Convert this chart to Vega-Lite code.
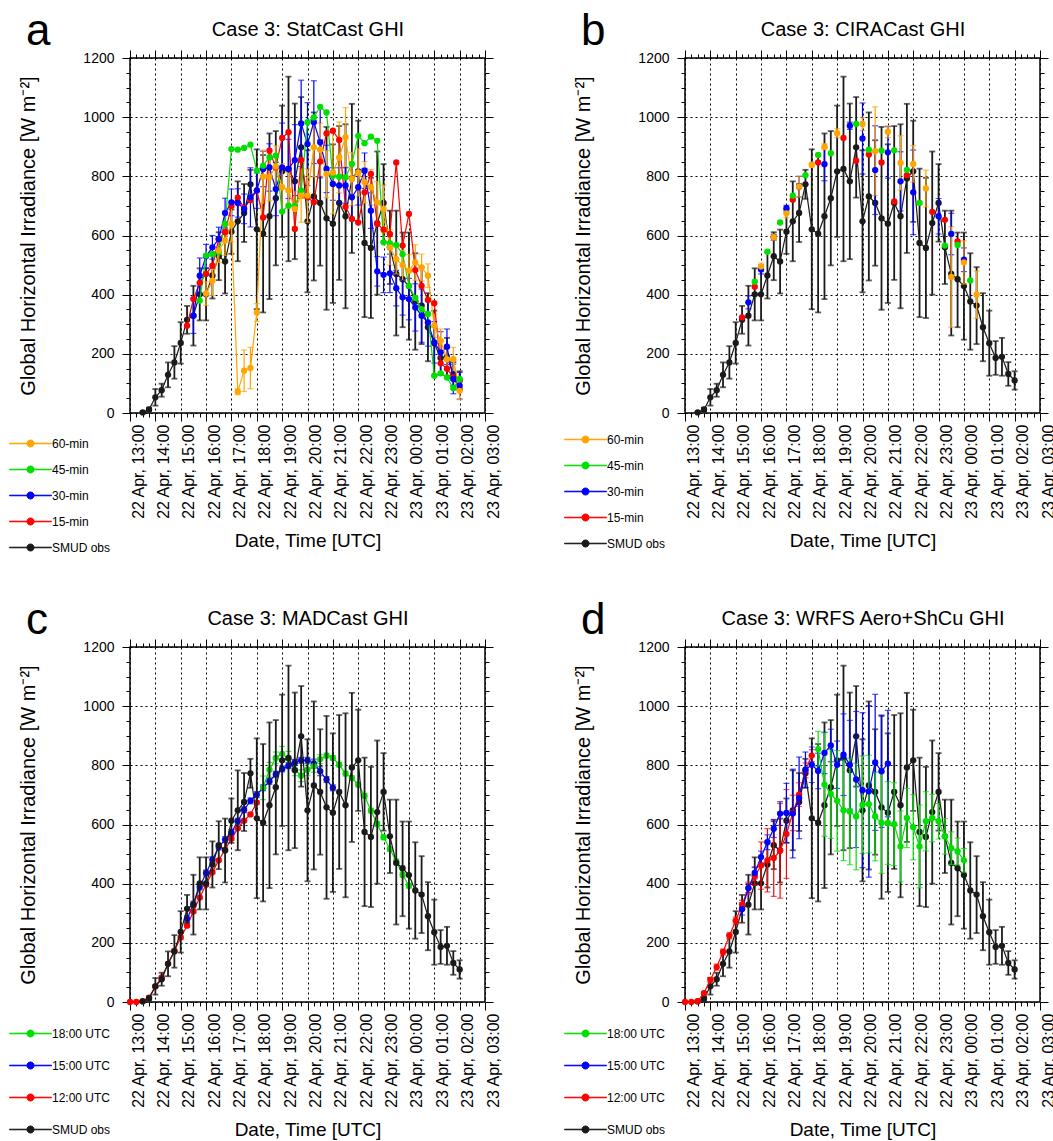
{
"$schema": "https://vega.github.io/schema/vega-lite/v6.json",
"background": "white",
"padding": {"left": 8, "top": 8, "right": 0, "bottom": 5},
"config": {
  "font": "Liberation Sans",
  "view": {"stroke": "black", "strokeWidth": 1.5},
  "axis": {"labelFontSize": 14, "labelColor": "black", "titleFontSize": 20, "titleFontWeight": "normal", "titleColor": "black", "tickColor": "black", "tickWidth": 1, "domain": false, "gridColor": "black", "gridDash": [2, 3], "gridWidth": 1, "gridOpacity": 1, "labelFlush": false, "labelOverlap": false, "labelBound": false},
  "legend": {"labelFontSize": 12, "labelColor": "black"}
},
"datasets": {
  "obs": [
    {"t":13.5,"v":2,"lo":2,"hi":2,"s":"SMUD obs"},{"t":13.75,"v":12,"lo":6,"hi":18,"s":"SMUD obs"},{"t":14,"v":53,"lo":25,"hi":81,"s":"SMUD obs"},{"t":14.25,"v":77,"lo":55,"hi":99,"s":"SMUD obs"},{"t":14.5,"v":129,"lo":87,"hi":171,"s":"SMUD obs"},{"t":14.75,"v":171,"lo":116,"hi":226,"s":"SMUD obs"},{"t":15,"v":237,"lo":167,"hi":307,"s":"SMUD obs"},{"t":15.25,"v":315,"lo":268,"hi":362,"s":"SMUD obs"},{"t":15.5,"v":329,"lo":228,"hi":430,"s":"SMUD obs"},{"t":15.75,"v":401,"lo":313,"hi":489,"s":"SMUD obs"},{"t":16,"v":401,"lo":313,"hi":489,"s":"SMUD obs"},{"t":16.25,"v":465,"lo":387,"hi":543,"s":"SMUD obs"},{"t":16.5,"v":530,"lo":449,"hi":611,"s":"SMUD obs"},{"t":16.75,"v":512,"lo":404,"hi":620,"s":"SMUD obs"},{"t":17,"v":613,"lo":538,"hi":688,"s":"SMUD obs"},{"t":17.25,"v":648,"lo":513,"hi":783,"s":"SMUD obs"},{"t":17.5,"v":676,"lo":578,"hi":774,"s":"SMUD obs"},{"t":17.75,"v":773,"lo":724,"hi":822,"s":"SMUD obs"},{"t":18,"v":621,"lo":351,"hi":891,"s":"SMUD obs"},{"t":18.25,"v":606,"lo":340,"hi":872,"s":"SMUD obs"},{"t":18.5,"v":665,"lo":385,"hi":945,"s":"SMUD obs"},{"t":18.75,"v":726,"lo":499,"hi":953,"s":"SMUD obs"},{"t":19,"v":817,"lo":595,"hi":1039,"s":"SMUD obs"},{"t":19.25,"v":825,"lo":513,"hi":1137,"s":"SMUD obs"},{"t":19.5,"v":783,"lo":520,"hi":1046,"s":"SMUD obs"},{"t":19.75,"v":898,"lo":728,"hi":1068,"s":"SMUD obs"},{"t":20,"v":648,"lo":408,"hi":888,"s":"SMUD obs"},{"t":20.25,"v":732,"lo":448,"hi":1016,"s":"SMUD obs"},{"t":20.5,"v":710,"lo":498,"hi":922,"s":"SMUD obs"},{"t":20.75,"v":658,"lo":349,"hi":967,"s":"SMUD obs"},{"t":21,"v":640,"lo":372,"hi":908,"s":"SMUD obs"},{"t":21.25,"v":710,"lo":450,"hi":970,"s":"SMUD obs"},{"t":21.5,"v":665,"lo":354,"hi":976,"s":"SMUD obs"},{"t":21.75,"v":793,"lo":541,"hi":1045,"s":"SMUD obs"},{"t":22,"v":817,"lo":646,"hi":988,"s":"SMUD obs"},{"t":22.25,"v":575,"lo":324,"hi":826,"s":"SMUD obs"},{"t":22.5,"v":558,"lo":321,"hi":795,"s":"SMUD obs"},{"t":22.75,"v":642,"lo":400,"hi":884,"s":"SMUD obs"},{"t":23,"v":710,"lo":579,"hi":841,"s":"SMUD obs"},{"t":23.25,"v":560,"lo":436,"hi":684,"s":"SMUD obs"},{"t":23.5,"v":470,"lo":262,"hi":684,"s":"SMUD obs"},{"t":23.75,"v":452,"lo":290,"hi":610,"s":"SMUD obs"},{"t":24,"v":429,"lo":248,"hi":610,"s":"SMUD obs"},{"t":24.25,"v":377,"lo":214,"hi":540,"s":"SMUD obs"},{"t":24.5,"v":363,"lo":233,"hi":493,"s":"SMUD obs"},{"t":24.75,"v":290,"lo":175,"hi":405,"s":"SMUD obs"},{"t":25,"v":236,"lo":126,"hi":346,"s":"SMUD obs"},{"t":25.25,"v":186,"lo":129,"hi":243,"s":"SMUD obs"},{"t":25.5,"v":190,"lo":126,"hi":254,"s":"SMUD obs"},{"t":25.75,"v":132,"lo":92,"hi":172,"s":"SMUD obs"},{"t":26,"v":110,"lo":79,"hi":141,"s":"SMUD obs"}
  ],
  "fa": [
    {"t":15.25,"v":295,"s":"15-min"},{"t":15.5,"v":385,"s":"15-min"},{"t":15.75,"v":440,"s":"15-min"},{"t":16,"v":470,"s":"15-min"},{"t":16.25,"v":498,"s":"15-min"},{"t":16.5,"v":588,"s":"15-min"},{"t":16.75,"v":611,"s":"15-min"},{"t":17,"v":700,"s":"15-min"},{"t":17.25,"v":728,"s":"15-min"},{"t":17.5,"v":693,"s":"15-min"},{"t":17.75,"v":720,"s":"15-min"},{"t":18,"v":752,"s":"15-min"},{"t":18.25,"v":661,"s":"15-min"},{"t":18.5,"v":887,"s":"15-min"},{"t":18.75,"v":830,"s":"15-min"},{"t":19,"v":930,"s":"15-min"},{"t":19.25,"v":949,"s":"15-min"},{"t":19.5,"v":622,"s":"15-min"},{"t":19.75,"v":855,"s":"15-min"},{"t":20,"v":729,"s":"15-min"},{"t":20.25,"v":712,"s":"15-min"},{"t":20.5,"v":850,"s":"15-min"},{"t":20.75,"v":945,"s":"15-min"},{"t":21,"v":954,"s":"15-min"},{"t":21.25,"v":923,"s":"15-min"},{"t":21.5,"v":697,"s":"15-min"},{"t":21.75,"v":656,"s":"15-min"},{"t":22,"v":644,"s":"15-min"},{"t":22.25,"v":746,"s":"15-min"},{"t":22.5,"v":808,"s":"15-min"},{"t":22.75,"v":639,"s":"15-min"},{"t":23,"v":620,"s":"15-min"},{"t":23.25,"v":605,"s":"15-min"},{"t":23.5,"v":847,"s":"15-min"},{"t":23.75,"v":566,"s":"15-min"},{"t":24,"v":673,"s":"15-min"},{"t":24.25,"v":483,"s":"15-min"},{"t":24.5,"v":430,"s":"15-min"},{"t":24.75,"v":382,"s":"15-min"},{"t":25,"v":371,"s":"15-min"},{"t":25.25,"v":168,"s":"15-min"},{"t":25.5,"v":150,"s":"15-min"},{"t":25.75,"v":120,"s":"15-min"},{"t":26,"v":81,"s":"15-min"},
    {"t":15.5,"v":329,"lo":269,"hi":389,"s":"30-min"},{"t":15.75,"v":464,"lo":404,"hi":524,"s":"30-min"},{"t":16,"v":530,"lo":490,"hi":570,"s":"30-min"},{"t":16.25,"v":560,"lo":520,"hi":600,"s":"30-min"},{"t":16.5,"v":588,"lo":548,"hi":628,"s":"30-min"},{"t":16.75,"v":676,"lo":626,"hi":726,"s":"30-min"},{"t":17,"v":712,"lo":667,"hi":757,"s":"30-min"},{"t":17.25,"v":710,"lo":662,"hi":758,"s":"30-min"},{"t":17.5,"v":690,"lo":640,"hi":740,"s":"30-min"},{"t":17.75,"v":729,"lo":629,"hi":829,"s":"30-min"},{"t":18,"v":752,"lo":692,"hi":812,"s":"30-min"},{"t":18.25,"v":825,"lo":765,"hi":885,"s":"30-min"},{"t":18.5,"v":830,"lo":750,"hi":910,"s":"30-min"},{"t":18.75,"v":757,"lo":667,"hi":847,"s":"30-min"},{"t":19,"v":830,"lo":680,"hi":980,"s":"30-min"},{"t":19.25,"v":825,"lo":725,"hi":925,"s":"30-min"},{"t":19.5,"v":855,"lo":735,"hi":975,"s":"30-min"},{"t":19.75,"v":979,"lo":833,"hi":1125,"s":"30-min"},{"t":20,"v":909,"lo":769,"hi":1049,"s":"30-min"},{"t":20.25,"v":983,"lo":843,"hi":1123,"s":"30-min"},{"t":20.5,"v":915,"lo":795,"hi":1035,"s":"30-min"},{"t":20.75,"v":825,"lo":745,"hi":905,"s":"30-min"},{"t":21,"v":774,"lo":719,"hi":829,"s":"30-min"},{"t":21.25,"v":769,"lo":709,"hi":829,"s":"30-min"},{"t":21.5,"v":769,"lo":709,"hi":829,"s":"30-min"},{"t":21.75,"v":729,"lo":659,"hi":799,"s":"30-min"},{"t":22,"v":763,"lo":703,"hi":823,"s":"30-min"},{"t":22.25,"v":819,"lo":759,"hi":879,"s":"30-min"},{"t":22.5,"v":684,"lo":624,"hi":744,"s":"30-min"},{"t":22.75,"v":479,"lo":429,"hi":529,"s":"30-min"},{"t":23,"v":467,"lo":407,"hi":527,"s":"30-min"},{"t":23.25,"v":472,"lo":407,"hi":537,"s":"30-min"},{"t":23.5,"v":422,"lo":362,"hi":482,"s":"30-min"},{"t":23.75,"v":391,"lo":331,"hi":451,"s":"30-min"},{"t":24,"v":385,"lo":315,"hi":455,"s":"30-min"},{"t":24.25,"v":357,"lo":277,"hi":437,"s":"30-min"},{"t":24.5,"v":329,"lo":239,"hi":419,"s":"30-min"},{"t":24.75,"v":306,"lo":226,"hi":386,"s":"30-min"},{"t":25,"v":239,"lo":169,"hi":309,"s":"30-min"},{"t":25.25,"v":205,"lo":135,"hi":275,"s":"30-min"},{"t":25.5,"v":224,"lo":164,"hi":284,"s":"30-min"},{"t":25.75,"v":115,"lo":65,"hi":165,"s":"30-min"},{"t":26,"v":92,"lo":47,"hi":137,"s":"30-min"},
    {"t":15.75,"v":380,"s":"45-min"},{"t":16,"v":532,"s":"45-min"},{"t":16.25,"v":537,"s":"45-min"},{"t":16.5,"v":543,"s":"45-min"},{"t":16.75,"v":639,"s":"45-min"},{"t":17,"v":892,"s":"45-min"},{"t":17.25,"v":890,"s":"45-min"},{"t":17.5,"v":896,"s":"45-min"},{"t":17.75,"v":907,"s":"45-min"},{"t":18,"v":819,"s":"45-min"},{"t":18.25,"v":836,"s":"45-min"},{"t":18.5,"v":864,"s":"45-min"},{"t":18.75,"v":870,"s":"45-min"},{"t":19,"v":681,"s":"45-min"},{"t":19.25,"v":701,"s":"45-min"},{"t":19.5,"v":699,"s":"45-min"},{"t":19.75,"v":752,"s":"45-min"},{"t":20,"v":983,"s":"45-min"},{"t":20.25,"v":999,"s":"45-min"},{"t":20.5,"v":1035,"s":"45-min"},{"t":20.75,"v":1016,"s":"45-min"},{"t":21,"v":802,"s":"45-min"},{"t":21.25,"v":799,"s":"45-min"},{"t":21.5,"v":797,"s":"45-min"},{"t":21.75,"v":842,"s":"45-min"},{"t":22,"v":937,"s":"45-min"},{"t":22.25,"v":912,"s":"45-min"},{"t":22.5,"v":934,"s":"45-min"},{"t":22.75,"v":920,"s":"45-min"},{"t":23,"v":577,"s":"45-min"},{"t":23.25,"v":573,"s":"45-min"},{"t":23.5,"v":568,"s":"45-min"},{"t":23.75,"v":537,"s":"45-min"},{"t":24,"v":430,"s":"45-min"},{"t":24.25,"v":389,"s":"45-min"},{"t":24.5,"v":351,"s":"45-min"},{"t":24.75,"v":335,"s":"45-min"},{"t":25,"v":126,"s":"45-min"},{"t":25.25,"v":134,"s":"45-min"},{"t":25.5,"v":120,"s":"45-min"},{"t":25.75,"v":84,"s":"45-min"},{"t":26,"v":115,"s":"45-min"},
    {"t":16,"v":404,"lo":364,"hi":444,"s":"60-min"},{"t":16.25,"v":447,"lo":397,"hi":497,"s":"60-min"},{"t":16.5,"v":549,"lo":509,"hi":589,"s":"60-min"},{"t":16.75,"v":583,"lo":533,"hi":633,"s":"60-min"},{"t":17,"v":639,"lo":579,"hi":699,"s":"60-min"},{"t":17.25,"v":72,"lo":62,"hi":82,"s":"60-min"},{"t":17.5,"v":143,"lo":73,"hi":213,"s":"60-min"},{"t":17.75,"v":152,"lo":82,"hi":222,"s":"60-min"},{"t":18,"v":340,"lo":310,"hi":370,"s":"60-min"},{"t":18.25,"v":799,"lo":709,"hi":889,"s":"60-min"},{"t":18.5,"v":797,"lo":717,"hi":877,"s":"60-min"},{"t":18.75,"v":833,"lo":763,"hi":903,"s":"60-min"},{"t":19,"v":763,"lo":683,"hi":843,"s":"60-min"},{"t":19.25,"v":752,"lo":692,"hi":812,"s":"60-min"},{"t":19.5,"v":690,"lo":630,"hi":750,"s":"60-min"},{"t":19.75,"v":735,"lo":645,"hi":825,"s":"60-min"},{"t":20,"v":735,"lo":645,"hi":825,"s":"60-min"},{"t":20.25,"v":898,"lo":798,"hi":998,"s":"60-min"},{"t":20.5,"v":890,"lo":800,"hi":980,"s":"60-min"},{"t":20.75,"v":808,"lo":728,"hi":888,"s":"60-min"},{"t":21,"v":813,"lo":673,"hi":953,"s":"60-min"},{"t":21.25,"v":864,"lo":744,"hi":984,"s":"60-min"},{"t":21.5,"v":932,"lo":832,"hi":1032,"s":"60-min"},{"t":21.75,"v":791,"lo":701,"hi":881,"s":"60-min"},{"t":22,"v":813,"lo":733,"hi":893,"s":"60-min"},{"t":22.25,"v":780,"lo":710,"hi":850,"s":"60-min"},{"t":22.5,"v":763,"lo":703,"hi":823,"s":"60-min"},{"t":22.75,"v":712,"lo":642,"hi":782,"s":"60-min"},{"t":23,"v":690,"lo":610,"hi":770,"s":"60-min"},{"t":23.25,"v":560,"lo":500,"hi":620,"s":"60-min"},{"t":23.5,"v":520,"lo":470,"hi":570,"s":"60-min"},{"t":23.75,"v":500,"lo":450,"hi":550,"s":"60-min"},{"t":24,"v":481,"lo":426,"hi":536,"s":"60-min"},{"t":24.25,"v":509,"lo":449,"hi":569,"s":"60-min"},{"t":24.5,"v":492,"lo":447,"hi":537,"s":"60-min"},{"t":24.75,"v":464,"lo":424,"hi":504,"s":"60-min"},{"t":25,"v":295,"lo":255,"hi":335,"s":"60-min"},{"t":25.25,"v":244,"lo":204,"hi":284,"s":"60-min"},{"t":25.5,"v":182,"lo":147,"hi":217,"s":"60-min"},{"t":25.75,"v":182,"lo":142,"hi":222,"s":"60-min"},{"t":26,"v":75,"lo":45,"hi":105,"s":"60-min"}
  ],
  "fb": [
    {"t":15.25,"v":323,"s":"15-min"},{"t":15.75,"v":427,"s":"15-min"},{"t":17.25,"v":721,"s":"15-min"},{"t":18.25,"v":847,"s":"15-min"},{"t":19.25,"v":930,"s":"15-min"},{"t":19.75,"v":853,"s":"15-min"},{"t":20.25,"v":874,"s":"15-min"},{"t":20.75,"v":847,"s":"15-min"},{"t":21.25,"v":715,"s":"15-min"},{"t":21.75,"v":804,"s":"15-min"},{"t":22.75,"v":680,"s":"15-min"},{"t":23.25,"v":653,"s":"15-min"},{"t":23.75,"v":580,"s":"15-min"},
    {"t":15.5,"v":374,"lo":352,"hi":396,"s":"30-min"},{"t":16,"v":485,"lo":470,"hi":500,"s":"30-min"},{"t":16.5,"v":594,"lo":584,"hi":604,"s":"30-min"},{"t":17,"v":692,"lo":682,"hi":702,"s":"30-min"},{"t":17.5,"v":765,"lo":730,"hi":800,"s":"30-min"},{"t":18.5,"v":841,"lo":785,"hi":897,"s":"30-min"},{"t":19.5,"v":971,"lo":959,"hi":983,"s":"30-min"},{"t":20,"v":928,"lo":808,"hi":1048,"s":"30-min"},{"t":20.5,"v":821,"lo":671,"hi":971,"s":"30-min"},{"t":21,"v":881,"lo":794,"hi":968,"s":"30-min"},{"t":21.5,"v":783,"lo":683,"hi":883,"s":"30-min"},{"t":22,"v":746,"lo":603,"hi":889,"s":"30-min"},{"t":23,"v":665,"lo":605,"hi":725,"s":"30-min"},{"t":23.5,"v":605,"lo":535,"hi":675,"s":"30-min"},{"t":24,"v":518,"lo":478,"hi":558,"s":"30-min"},
    {"t":15.75,"v":444,"s":"45-min"},{"t":16.25,"v":545,"s":"45-min"},{"t":16.75,"v":644,"s":"45-min"},{"t":17.25,"v":735,"s":"45-min"},{"t":17.75,"v":804,"s":"45-min"},{"t":18.25,"v":872,"s":"45-min"},{"t":18.75,"v":878,"s":"45-min"},{"t":19.75,"v":977,"s":"45-min"},{"t":20.25,"v":890,"s":"45-min"},{"t":20.75,"v":887,"s":"45-min"},{"t":21.25,"v":888,"s":"45-min"},{"t":21.75,"v":822,"s":"45-min"},{"t":22.25,"v":710,"s":"45-min"},{"t":23.25,"v":566,"s":"45-min"},{"t":23.75,"v":568,"s":"45-min"},{"t":24.25,"v":448,"s":"45-min"},
    {"t":16,"v":495,"lo":483,"hi":507,"s":"60-min"},{"t":16.5,"v":594,"lo":584,"hi":604,"s":"60-min"},{"t":17,"v":675,"lo":660,"hi":690,"s":"60-min"},{"t":17.5,"v":765,"lo":730,"hi":800,"s":"60-min"},{"t":18,"v":839,"lo":831,"hi":847,"s":"60-min"},{"t":18.5,"v":900,"lo":890,"hi":910,"s":"60-min"},{"t":19,"v":946,"lo":931,"hi":961,"s":"60-min"},{"t":20,"v":977,"lo":955,"hi":999,"s":"60-min"},{"t":20.5,"v":885,"lo":735,"hi":1035,"s":"60-min"},{"t":21,"v":951,"lo":931,"hi":971,"s":"60-min"},{"t":21.5,"v":845,"lo":753,"hi":937,"s":"60-min"},{"t":22,"v":842,"lo":780,"hi":904,"s":"60-min"},{"t":22.5,"v":759,"lo":697,"hi":821,"s":"60-min"},{"t":23.5,"v":460,"lo":290,"hi":630,"s":"60-min"},{"t":24,"v":509,"lo":436,"hi":582,"s":"60-min"},{"t":24.5,"v":400,"lo":320,"hi":480,"s":"60-min"}
  ],
  "fc": [
    {"t":13,"v":0,"lo":0,"hi":0,"s":"12:00 UTC"},{"t":13.25,"v":0,"lo":0,"hi":0,"s":"12:00 UTC"},{"t":13.5,"v":3,"lo":0,"hi":6,"s":"12:00 UTC"},{"t":13.75,"v":15,"lo":10,"hi":20,"s":"12:00 UTC"},{"t":14,"v":53,"lo":48,"hi":58,"s":"12:00 UTC"},{"t":14.25,"v":83,"lo":78,"hi":88,"s":"12:00 UTC"},{"t":14.5,"v":129,"lo":124,"hi":134,"s":"12:00 UTC"},{"t":14.75,"v":173,"lo":168,"hi":178,"s":"12:00 UTC"},{"t":15,"v":218,"lo":213,"hi":223,"s":"12:00 UTC"},{"t":15.25,"v":258,"lo":253,"hi":263,"s":"12:00 UTC"},{"t":15.5,"v":306,"lo":301,"hi":311,"s":"12:00 UTC"},{"t":15.75,"v":353,"lo":348,"hi":358,"s":"12:00 UTC"},{"t":16,"v":396,"lo":391,"hi":401,"s":"12:00 UTC"},{"t":16.25,"v":439,"lo":434,"hi":444,"s":"12:00 UTC"},{"t":16.5,"v":479,"lo":474,"hi":484,"s":"12:00 UTC"},{"t":16.75,"v":515,"lo":510,"hi":520,"s":"12:00 UTC"},{"t":17,"v":552,"lo":547,"hi":557,"s":"12:00 UTC"},{"t":17.25,"v":587,"lo":582,"hi":592,"s":"12:00 UTC"},{"t":17.5,"v":613,"lo":608,"hi":618,"s":"12:00 UTC"},{"t":17.75,"v":634,"lo":629,"hi":639,"s":"12:00 UTC"},{"t":18,"v":674,"lo":669,"hi":679,"s":"12:00 UTC"},
    {"t":15.25,"v":281,"lo":271,"hi":291,"s":"15:00 UTC"},{"t":15.5,"v":331,"lo":321,"hi":341,"s":"15:00 UTC"},{"t":15.75,"v":389,"lo":379,"hi":399,"s":"15:00 UTC"},{"t":16,"v":436,"lo":426,"hi":446,"s":"15:00 UTC"},{"t":16.25,"v":481,"lo":471,"hi":491,"s":"15:00 UTC"},{"t":16.5,"v":524,"lo":514,"hi":534,"s":"15:00 UTC"},{"t":16.75,"v":549,"lo":539,"hi":559,"s":"15:00 UTC"},{"t":17,"v":573,"lo":563,"hi":583,"s":"15:00 UTC"},{"t":17.25,"v":611,"lo":601,"hi":621,"s":"15:00 UTC"},{"t":17.5,"v":650,"lo":640,"hi":660,"s":"15:00 UTC"},{"t":17.75,"v":680,"lo":670,"hi":690,"s":"15:00 UTC"},{"t":18,"v":701,"lo":691,"hi":711,"s":"15:00 UTC"},{"t":18.25,"v":724,"lo":714,"hi":734,"s":"15:00 UTC"},{"t":18.5,"v":746,"lo":736,"hi":756,"s":"15:00 UTC"},{"t":18.75,"v":770,"lo":760,"hi":780,"s":"15:00 UTC"},{"t":19,"v":788,"lo":778,"hi":798,"s":"15:00 UTC"},{"t":19.25,"v":799,"lo":789,"hi":809,"s":"15:00 UTC"},{"t":19.5,"v":810,"lo":800,"hi":820,"s":"15:00 UTC"},{"t":19.75,"v":817,"lo":807,"hi":827,"s":"15:00 UTC"},{"t":20,"v":817,"lo":807,"hi":827,"s":"15:00 UTC"},{"t":20.25,"v":806,"lo":791,"hi":821,"s":"15:00 UTC"},{"t":20.5,"v":780,"lo":765,"hi":795,"s":"15:00 UTC"},{"t":20.75,"v":752,"lo":742,"hi":762,"s":"15:00 UTC"},{"t":21,"v":724,"lo":714,"hi":734,"s":"15:00 UTC"},
    {"t":18.25,"v":724,"lo":684,"hi":764,"s":"18:00 UTC"},{"t":18.5,"v":785,"lo":760,"hi":810,"s":"18:00 UTC"},{"t":18.75,"v":825,"lo":805,"hi":845,"s":"18:00 UTC"},{"t":19,"v":839,"lo":814,"hi":864,"s":"18:00 UTC"},{"t":19.25,"v":822,"lo":797,"hi":847,"s":"18:00 UTC"},{"t":19.5,"v":785,"lo":765,"hi":805,"s":"18:00 UTC"},{"t":19.75,"v":765,"lo":745,"hi":785,"s":"18:00 UTC"},{"t":20,"v":785,"lo":765,"hi":805,"s":"18:00 UTC"},{"t":20.25,"v":797,"lo":777,"hi":817,"s":"18:00 UTC"},{"t":20.5,"v":821,"lo":806,"hi":836,"s":"18:00 UTC"},{"t":20.75,"v":833,"lo":825,"hi":841,"s":"18:00 UTC"},{"t":21,"v":825,"lo":817,"hi":833,"s":"18:00 UTC"},{"t":21.25,"v":802,"lo":794,"hi":810,"s":"18:00 UTC"},{"t":21.5,"v":772,"lo":764,"hi":780,"s":"18:00 UTC"},{"t":21.75,"v":757,"lo":749,"hi":765,"s":"18:00 UTC"},{"t":22,"v":735,"lo":727,"hi":743,"s":"18:00 UTC"},{"t":22.25,"v":697,"lo":689,"hi":705,"s":"18:00 UTC"},{"t":22.5,"v":647,"lo":639,"hi":655,"s":"18:00 UTC"},{"t":22.75,"v":602,"lo":594,"hi":610,"s":"18:00 UTC"},{"t":23,"v":557,"lo":549,"hi":565,"s":"18:00 UTC"},{"t":23.25,"v":517,"lo":509,"hi":525,"s":"18:00 UTC"},{"t":23.5,"v":475,"lo":467,"hi":483,"s":"18:00 UTC"},{"t":23.75,"v":430,"lo":422,"hi":438,"s":"18:00 UTC"},{"t":24,"v":393,"lo":385,"hi":401,"s":"18:00 UTC"}
  ],
  "fd": [
    {"t":13,"v":0,"lo":0,"hi":0,"s":"12:00 UTC"},{"t":13.25,"v":0,"lo":0,"hi":0,"s":"12:00 UTC"},{"t":13.5,"v":3,"lo":0,"hi":6,"s":"12:00 UTC"},{"t":13.75,"v":30,"lo":25,"hi":35,"s":"12:00 UTC"},{"t":14,"v":75,"lo":67,"hi":83,"s":"12:00 UTC"},{"t":14.25,"v":118,"lo":108,"hi":128,"s":"12:00 UTC"},{"t":14.5,"v":169,"lo":159,"hi":179,"s":"12:00 UTC"},{"t":14.75,"v":224,"lo":214,"hi":234,"s":"12:00 UTC"},{"t":15,"v":275,"lo":263,"hi":287,"s":"12:00 UTC"},{"t":15.25,"v":329,"lo":314,"hi":344,"s":"12:00 UTC"},{"t":15.5,"v":385,"lo":365,"hi":405,"s":"12:00 UTC"},{"t":15.75,"v":425,"lo":395,"hi":455,"s":"12:00 UTC"},{"t":16,"v":461,"lo":381,"hi":541,"s":"12:00 UTC"},{"t":16.25,"v":479,"lo":372,"hi":586,"s":"12:00 UTC"},{"t":16.5,"v":487,"lo":357,"hi":617,"s":"12:00 UTC"},{"t":16.75,"v":511,"lo":351,"hi":671,"s":"12:00 UTC"},{"t":17,"v":568,"lo":418,"hi":718,"s":"12:00 UTC"},{"t":17.25,"v":639,"lo":579,"hi":699,"s":"12:00 UTC"},{"t":17.5,"v":701,"lo":661,"hi":741,"s":"12:00 UTC"},{"t":17.75,"v":783,"lo":758,"hi":808,"s":"12:00 UTC"},{"t":18,"v":833,"lo":813,"hi":853,"s":"12:00 UTC"},
    {"t":15.25,"v":314,"lo":294,"hi":334,"s":"15:00 UTC"},{"t":15.5,"v":385,"lo":370,"hi":400,"s":"15:00 UTC"},{"t":15.75,"v":436,"lo":416,"hi":456,"s":"15:00 UTC"},{"t":16,"v":490,"lo":470,"hi":510,"s":"15:00 UTC"},{"t":16.25,"v":540,"lo":515,"hi":565,"s":"15:00 UTC"},{"t":16.5,"v":586,"lo":556,"hi":616,"s":"15:00 UTC"},{"t":16.75,"v":637,"lo":597,"hi":677,"s":"15:00 UTC"},{"t":17,"v":639,"lo":539,"hi":739,"s":"15:00 UTC"},{"t":17.25,"v":637,"lo":487,"hi":787,"s":"15:00 UTC"},{"t":17.5,"v":690,"lo":552,"hi":828,"s":"15:00 UTC"},{"t":17.75,"v":785,"lo":725,"hi":845,"s":"15:00 UTC"},{"t":18,"v":802,"lo":742,"hi":862,"s":"15:00 UTC"},{"t":18.25,"v":781,"lo":721,"hi":841,"s":"15:00 UTC"},{"t":18.5,"v":842,"lo":772,"hi":912,"s":"15:00 UTC"},{"t":18.75,"v":867,"lo":812,"hi":922,"s":"15:00 UTC"},{"t":19,"v":802,"lo":722,"hi":882,"s":"15:00 UTC"},{"t":19.25,"v":836,"lo":698,"hi":974,"s":"15:00 UTC"},{"t":19.5,"v":802,"lo":652,"hi":952,"s":"15:00 UTC"},{"t":19.75,"v":752,"lo":522,"hi":982,"s":"15:00 UTC"},{"t":20,"v":716,"lo":454,"hi":978,"s":"15:00 UTC"},{"t":20.25,"v":712,"lo":422,"hi":1002,"s":"15:00 UTC"},{"t":20.5,"v":810,"lo":580,"hi":1040,"s":"15:00 UTC"},{"t":20.75,"v":780,"lo":590,"hi":970,"s":"15:00 UTC"},{"t":21,"v":806,"lo":626,"hi":986,"s":"15:00 UTC"},
    {"t":18.25,"v":855,"lo":795,"hi":915,"s":"18:00 UTC"},{"t":18.5,"v":735,"lo":560,"hi":910,"s":"18:00 UTC"},{"t":18.75,"v":703,"lo":553,"hi":853,"s":"18:00 UTC"},{"t":19,"v":680,"lo":510,"hi":850,"s":"18:00 UTC"},{"t":19.25,"v":648,"lo":478,"hi":818,"s":"18:00 UTC"},{"t":19.5,"v":644,"lo":464,"hi":824,"s":"18:00 UTC"},{"t":19.75,"v":627,"lo":447,"hi":807,"s":"18:00 UTC"},{"t":20,"v":667,"lo":502,"hi":832,"s":"18:00 UTC"},{"t":20.25,"v":669,"lo":504,"hi":834,"s":"18:00 UTC"},{"t":20.5,"v":627,"lo":477,"hi":777,"s":"18:00 UTC"},{"t":20.75,"v":605,"lo":435,"hi":775,"s":"18:00 UTC"},{"t":21,"v":605,"lo":465,"hi":745,"s":"18:00 UTC"},{"t":21.25,"v":601,"lo":461,"hi":741,"s":"18:00 UTC"},{"t":21.5,"v":526,"lo":406,"hi":646,"s":"18:00 UTC"},{"t":21.75,"v":622,"lo":522,"hi":722,"s":"18:00 UTC"},{"t":22,"v":591,"lo":481,"hi":701,"s":"18:00 UTC"},{"t":22.25,"v":526,"lo":386,"hi":666,"s":"18:00 UTC"},{"t":22.5,"v":611,"lo":511,"hi":711,"s":"18:00 UTC"},{"t":22.75,"v":622,"lo":542,"hi":702,"s":"18:00 UTC"},{"t":23,"v":611,"lo":551,"hi":671,"s":"18:00 UTC"},{"t":23.25,"v":560,"lo":500,"hi":620,"s":"18:00 UTC"},{"t":23.5,"v":520,"lo":465,"hi":575,"s":"18:00 UTC"},{"t":23.75,"v":509,"lo":464,"hi":554,"s":"18:00 UTC"},{"t":24,"v":479,"lo":439,"hi":519,"s":"18:00 UTC"}
  ]
},
"columns": 2,
"spacing": {"row": 234, "column": 200},
"bounds": "flush",
"resolve": {"scale": {"color": "independent"}, "legend": {"color": "independent"}},
"concat": [
  {"width": 355, "height": 355,
   "title": {"text": "a", "anchor": "start", "frame": "group", "fontSize": 44, "fontWeight": "normal", "dx": -104, "dy": 34, "offset": 0},
   "resolve": {"axis": {"x": "independent", "y": "independent"}},
   "layer": [
    {"data": {"name": "obs"}, "mark": {"type": "point", "opacity": 0}, "encoding": {
      "x": {"field": "t", "type": "quantitative", "scale": {"domain": [13, 27], "nice": false, "zero": false}, "axis": {"orient": "bottom", "values": [13,14,15,16,17,18,19,20,21,22,23,24,25,26,27], "labelExpr": "(datum.value < 24 ? '22 Apr, ' : '23 Apr, ') + (datum.value % 24 < 10 ? '0' : '') + (datum.value % 24) + ':00'", "labelAngle": 270, "labelAlign": "right", "labelBaseline": "top", "labelFontSize": 16, "labelPadding": 3, "tickSize": 8, "grid": true, "title": "Date, Time [UTC]", "titleFontSize": 19, "titlePadding": 12}},
      "y": {"field": "v", "type": "quantitative", "scale": {"domain": [0, 1200], "nice": false}, "axis": {"orient": "left", "values": [0,200,400,600,800,1000,1200], "format": "d", "labelPadding": 8, "tickSize": 8, "grid": true, "title": "Global Horizontal Irradiance [W m⁻²]", "titlePadding": 44}}}},
    {"data": {"name": "obs"}, "mark": {"type": "point", "opacity": 0}, "encoding": {
      "x": {"field": "t", "type": "quantitative", "axis": {"orient": "bottom", "values": [13.25,13.5,13.75,14.25,14.5,14.75,15.25,15.5,15.75,16.25,16.5,16.75,17.25,17.5,17.75,18.25,18.5,18.75,19.25,19.5,19.75,20.25,20.5,20.75,21.25,21.5,21.75,22.25,22.5,22.75,23.25,23.5,23.75,24.25,24.5,24.75,25.25,25.5,25.75,26.25,26.5,26.75], "labels": false, "tickSize": 4, "grid": false, "title": null}},
      "y": {"field": "v", "type": "quantitative", "axis": {"orient": "left", "values": [50,100,150,250,300,350,450,500,550,650,700,750,850,900,950,1050,1100,1150], "labels": false, "tickSize": 4, "grid": false, "title": null}}}},
    {"data": {"name": "obs"}, "mark": {"type": "point", "opacity": 0}, "encoding": {
      "x": {"field": "t", "type": "quantitative", "axis": {"orient": "top", "values": [13,14,15,16,17,18,19,20,21,22,23,24,25,26,27], "labels": false, "tickSize": 8, "grid": false, "title": "Case 3: StatCast GHI", "titlePadding": 10}},
      "y": {"field": "v", "type": "quantitative", "axis": {"orient": "right", "values": [0,200,400,600,800,1000,1200], "labels": false, "tickSize": 8, "grid": false, "title": null}}}},
    {"data": {"name": "obs"}, "mark": {"type": "point", "opacity": 0}, "encoding": {
      "x": {"field": "t", "type": "quantitative", "axis": {"orient": "top", "values": [13.25,13.5,13.75,14.25,14.5,14.75,15.25,15.5,15.75,16.25,16.5,16.75,17.25,17.5,17.75,18.25,18.5,18.75,19.25,19.5,19.75,20.25,20.5,20.75,21.25,21.5,21.75,22.25,22.5,22.75,23.25,23.5,23.75,24.25,24.5,24.75,25.25,25.5,25.75,26.25,26.5,26.75], "labels": false, "tickSize": 4, "grid": false, "title": null}},
      "y": {"field": "v", "type": "quantitative", "axis": {"orient": "right", "values": [50,100,150,250,300,350,450,500,550,650,700,750,850,900,950,1050,1100,1150], "labels": false, "tickSize": 4, "grid": false, "title": null}}}},
    {"data": {"name": "obs"}, "mark": {"type": "errorbar", "ticks": true, "size": 6, "thickness": 1.8}, "encoding": {
      "x": {"field": "t", "type": "quantitative", "axis": null},
      "y": {"field": "lo", "type": "quantitative", "axis": null}, "y2": {"field": "hi"},
      "color": {"field": "s", "type": "nominal", "scale": {"domain": ["60-min","45-min","30-min","15-min","SMUD obs"], "range": ["#ffa500","#00e000","#0000ff","#ff0000","#1a1a1a"]}, "legend": {"orient": "none", "legendX": -121, "legendY": 378, "title": null, "symbolType": "M-3,-0.04H3V0.04H-3ZM-0.5,0A0.5,0.5,0,1,0,0.5,0A0.5,0.5,0,1,0,-0.5,0ZM-0.357,0A0.357,0.357,0,1,0,0.357,0A0.357,0.357,0,1,0,-0.357,0ZM-0.214,0A0.214,0.214,0,1,0,0.214,0A0.214,0.214,0,1,0,-0.214,0ZM-0.071,0A0.071,0.071,0,1,0,0.071,0A0.071,0.071,0,1,0,-0.071,0Z", "symbolSize": 196, "symbolOffset": 14, "symbolStrokeWidth": 1, "symbolOpacity": 1, "labelFontSize": 12, "labelOffset": 14, "rowPadding": 12, "padding": 0}}}},
    {"data": {"name": "obs"}, "mark": {"type": "line", "strokeWidth": 1.2}, "encoding": {
      "x": {"field": "t", "type": "quantitative", "axis": null},
      "y": {"field": "v", "type": "quantitative", "axis": null},
      "color": {"field": "s", "type": "nominal"}}},
    {"data": {"name": "obs"}, "mark": {"type": "point", "filled": true, "opacity": 1, "size": 40}, "encoding": {
      "x": {"field": "t", "type": "quantitative", "axis": null},
      "y": {"field": "v", "type": "quantitative", "axis": null},
      "color": {"field": "s", "type": "nominal"}}},
    {"data": {"name": "fa"}, "mark": {"type": "errorbar", "ticks": true, "size": 6, "thickness": 1.2}, "encoding": {
      "x": {"field": "t", "type": "quantitative", "axis": null},
      "y": {"field": "lo", "type": "quantitative", "axis": null}, "y2": {"field": "hi"},
      "color": {"field": "s", "type": "nominal"}}},
    {"data": {"name": "fa"}, "mark": {"type": "line", "strokeWidth": 1.2}, "encoding": {
      "x": {"field": "t", "type": "quantitative", "axis": null},
      "y": {"field": "v", "type": "quantitative", "axis": null},
      "color": {"field": "s", "type": "nominal"}}},
    {"data": {"name": "fa"}, "mark": {"type": "point", "filled": true, "opacity": 1, "size": 40}, "encoding": {
      "x": {"field": "t", "type": "quantitative", "axis": null},
      "y": {"field": "v", "type": "quantitative", "axis": null},
      "color": {"field": "s", "type": "nominal"}}}
   ]},
  {"width": 355, "height": 355,
   "title": {"text": "b", "anchor": "start", "frame": "group", "fontSize": 44, "fontWeight": "normal", "dx": -104, "dy": 34, "offset": 0},
   "resolve": {"axis": {"x": "independent", "y": "independent"}},
   "layer": [
    {"data": {"name": "obs"}, "mark": {"type": "point", "opacity": 0}, "encoding": {
      "x": {"field": "t", "type": "quantitative", "scale": {"domain": [13, 27], "nice": false, "zero": false}, "axis": {"orient": "bottom", "values": [13,14,15,16,17,18,19,20,21,22,23,24,25,26,27], "labelExpr": "(datum.value < 24 ? '22 Apr, ' : '23 Apr, ') + (datum.value % 24 < 10 ? '0' : '') + (datum.value % 24) + ':00'", "labelAngle": 270, "labelAlign": "right", "labelBaseline": "top", "labelFontSize": 16, "labelPadding": 3, "tickSize": 8, "grid": true, "title": "Date, Time [UTC]", "titleFontSize": 19, "titlePadding": 12}},
      "y": {"field": "v", "type": "quantitative", "scale": {"domain": [0, 1200], "nice": false}, "axis": {"orient": "left", "values": [0,200,400,600,800,1000,1200], "format": "d", "labelPadding": 8, "tickSize": 8, "grid": true, "title": "Global Horizontal Irradiance [W m⁻²]", "titlePadding": 44}}}},
    {"data": {"name": "obs"}, "mark": {"type": "point", "opacity": 0}, "encoding": {
      "x": {"field": "t", "type": "quantitative", "axis": {"orient": "bottom", "values": [13.25,13.5,13.75,14.25,14.5,14.75,15.25,15.5,15.75,16.25,16.5,16.75,17.25,17.5,17.75,18.25,18.5,18.75,19.25,19.5,19.75,20.25,20.5,20.75,21.25,21.5,21.75,22.25,22.5,22.75,23.25,23.5,23.75,24.25,24.5,24.75,25.25,25.5,25.75,26.25,26.5,26.75], "labels": false, "tickSize": 4, "grid": false, "title": null}},
      "y": {"field": "v", "type": "quantitative", "axis": {"orient": "left", "values": [50,100,150,250,300,350,450,500,550,650,700,750,850,900,950,1050,1100,1150], "labels": false, "tickSize": 4, "grid": false, "title": null}}}},
    {"data": {"name": "obs"}, "mark": {"type": "point", "opacity": 0}, "encoding": {
      "x": {"field": "t", "type": "quantitative", "axis": {"orient": "top", "values": [13,14,15,16,17,18,19,20,21,22,23,24,25,26,27], "labels": false, "tickSize": 8, "grid": false, "title": "Case 3: CIRACast GHI", "titlePadding": 10}},
      "y": {"field": "v", "type": "quantitative", "axis": {"orient": "right", "values": [0,200,400,600,800,1000,1200], "labels": false, "tickSize": 8, "grid": false, "title": null}}}},
    {"data": {"name": "obs"}, "mark": {"type": "point", "opacity": 0}, "encoding": {
      "x": {"field": "t", "type": "quantitative", "axis": {"orient": "top", "values": [13.25,13.5,13.75,14.25,14.5,14.75,15.25,15.5,15.75,16.25,16.5,16.75,17.25,17.5,17.75,18.25,18.5,18.75,19.25,19.5,19.75,20.25,20.5,20.75,21.25,21.5,21.75,22.25,22.5,22.75,23.25,23.5,23.75,24.25,24.5,24.75,25.25,25.5,25.75,26.25,26.5,26.75], "labels": false, "tickSize": 4, "grid": false, "title": null}},
      "y": {"field": "v", "type": "quantitative", "axis": {"orient": "right", "values": [50,100,150,250,300,350,450,500,550,650,700,750,850,900,950,1050,1100,1150], "labels": false, "tickSize": 4, "grid": false, "title": null}}}},
    {"data": {"name": "obs"}, "mark": {"type": "errorbar", "ticks": true, "size": 6, "thickness": 1.8}, "encoding": {
      "x": {"field": "t", "type": "quantitative", "axis": null},
      "y": {"field": "lo", "type": "quantitative", "axis": null}, "y2": {"field": "hi"},
      "color": {"field": "s", "type": "nominal", "scale": {"domain": ["60-min","45-min","30-min","15-min","SMUD obs"], "range": ["#ffa500","#00e000","#0000ff","#ff0000","#1a1a1a"]}, "legend": {"orient": "none", "legendX": -121, "legendY": 374, "title": null, "symbolType": "M-3,-0.04H3V0.04H-3ZM-0.5,0A0.5,0.5,0,1,0,0.5,0A0.5,0.5,0,1,0,-0.5,0ZM-0.357,0A0.357,0.357,0,1,0,0.357,0A0.357,0.357,0,1,0,-0.357,0ZM-0.214,0A0.214,0.214,0,1,0,0.214,0A0.214,0.214,0,1,0,-0.214,0ZM-0.071,0A0.071,0.071,0,1,0,0.071,0A0.071,0.071,0,1,0,-0.071,0Z", "symbolSize": 196, "symbolOffset": 14, "symbolStrokeWidth": 1, "symbolOpacity": 1, "labelFontSize": 12, "labelOffset": 14, "rowPadding": 12, "padding": 0}}}},
    {"data": {"name": "obs"}, "mark": {"type": "line", "strokeWidth": 1.2}, "encoding": {
      "x": {"field": "t", "type": "quantitative", "axis": null},
      "y": {"field": "v", "type": "quantitative", "axis": null},
      "color": {"field": "s", "type": "nominal"}}},
    {"data": {"name": "obs"}, "mark": {"type": "point", "filled": true, "opacity": 1, "size": 40}, "encoding": {
      "x": {"field": "t", "type": "quantitative", "axis": null},
      "y": {"field": "v", "type": "quantitative", "axis": null},
      "color": {"field": "s", "type": "nominal"}}},
    {"data": {"name": "fb"}, "mark": {"type": "errorbar", "ticks": true, "size": 6, "thickness": 1.2}, "encoding": {
      "x": {"field": "t", "type": "quantitative", "axis": null},
      "y": {"field": "lo", "type": "quantitative", "axis": null}, "y2": {"field": "hi"},
      "color": {"field": "s", "type": "nominal"}}},
    {"data": {"name": "fb"}, "mark": {"type": "point", "filled": true, "opacity": 1, "size": 40}, "encoding": {
      "x": {"field": "t", "type": "quantitative", "axis": null},
      "y": {"field": "v", "type": "quantitative", "axis": null},
      "color": {"field": "s", "type": "nominal"}}}
   ]},
  {"width": 355, "height": 355,
   "title": {"text": "c", "anchor": "start", "frame": "group", "fontSize": 44, "fontWeight": "normal", "dx": -104, "dy": 34, "offset": 0},
   "resolve": {"axis": {"x": "independent", "y": "independent"}},
   "layer": [
    {"data": {"name": "obs"}, "mark": {"type": "point", "opacity": 0}, "encoding": {
      "x": {"field": "t", "type": "quantitative", "scale": {"domain": [13, 27], "nice": false, "zero": false}, "axis": {"orient": "bottom", "values": [13,14,15,16,17,18,19,20,21,22,23,24,25,26,27], "labelExpr": "(datum.value < 24 ? '22 Apr, ' : '23 Apr, ') + (datum.value % 24 < 10 ? '0' : '') + (datum.value % 24) + ':00'", "labelAngle": 270, "labelAlign": "right", "labelBaseline": "top", "labelFontSize": 16, "labelPadding": 3, "tickSize": 8, "grid": true, "title": "Date, Time [UTC]", "titleFontSize": 19, "titlePadding": 12}},
      "y": {"field": "v", "type": "quantitative", "scale": {"domain": [0, 1200], "nice": false}, "axis": {"orient": "left", "values": [0,200,400,600,800,1000,1200], "format": "d", "labelPadding": 8, "tickSize": 8, "grid": true, "title": "Global Horizontal Irradiance [W m⁻²]", "titlePadding": 44}}}},
    {"data": {"name": "obs"}, "mark": {"type": "point", "opacity": 0}, "encoding": {
      "x": {"field": "t", "type": "quantitative", "axis": {"orient": "bottom", "values": [13.25,13.5,13.75,14.25,14.5,14.75,15.25,15.5,15.75,16.25,16.5,16.75,17.25,17.5,17.75,18.25,18.5,18.75,19.25,19.5,19.75,20.25,20.5,20.75,21.25,21.5,21.75,22.25,22.5,22.75,23.25,23.5,23.75,24.25,24.5,24.75,25.25,25.5,25.75,26.25,26.5,26.75], "labels": false, "tickSize": 4, "grid": false, "title": null}},
      "y": {"field": "v", "type": "quantitative", "axis": {"orient": "left", "values": [50,100,150,250,300,350,450,500,550,650,700,750,850,900,950,1050,1100,1150], "labels": false, "tickSize": 4, "grid": false, "title": null}}}},
    {"data": {"name": "obs"}, "mark": {"type": "point", "opacity": 0}, "encoding": {
      "x": {"field": "t", "type": "quantitative", "axis": {"orient": "top", "values": [13,14,15,16,17,18,19,20,21,22,23,24,25,26,27], "labels": false, "tickSize": 8, "grid": false, "title": "Case 3: MADCast GHI", "titlePadding": 10}},
      "y": {"field": "v", "type": "quantitative", "axis": {"orient": "right", "values": [0,200,400,600,800,1000,1200], "labels": false, "tickSize": 8, "grid": false, "title": null}}}},
    {"data": {"name": "obs"}, "mark": {"type": "point", "opacity": 0}, "encoding": {
      "x": {"field": "t", "type": "quantitative", "axis": {"orient": "top", "values": [13.25,13.5,13.75,14.25,14.5,14.75,15.25,15.5,15.75,16.25,16.5,16.75,17.25,17.5,17.75,18.25,18.5,18.75,19.25,19.5,19.75,20.25,20.5,20.75,21.25,21.5,21.75,22.25,22.5,22.75,23.25,23.5,23.75,24.25,24.5,24.75,25.25,25.5,25.75,26.25,26.5,26.75], "labels": false, "tickSize": 4, "grid": false, "title": null}},
      "y": {"field": "v", "type": "quantitative", "axis": {"orient": "right", "values": [50,100,150,250,300,350,450,500,550,650,700,750,850,900,950,1050,1100,1150], "labels": false, "tickSize": 4, "grid": false, "title": null}}}},
    {"data": {"name": "fc"}, "mark": {"type": "errorbar", "ticks": true, "size": 6, "thickness": 1.2}, "encoding": {
      "x": {"field": "t", "type": "quantitative", "axis": null},
      "y": {"field": "lo", "type": "quantitative", "axis": null}, "y2": {"field": "hi"},
      "color": {"field": "s", "type": "nominal", "scale": {"domain": ["18:00 UTC","15:00 UTC","12:00 UTC","SMUD obs"], "range": ["#00e000","#0000ff","#ff0000","#1a1a1a"]}, "legend": {"orient": "none", "legendX": -121, "legendY": 379, "title": null, "symbolType": "M-3,-0.04H3V0.04H-3ZM-0.5,0A0.5,0.5,0,1,0,0.5,0A0.5,0.5,0,1,0,-0.5,0ZM-0.357,0A0.357,0.357,0,1,0,0.357,0A0.357,0.357,0,1,0,-0.357,0ZM-0.214,0A0.214,0.214,0,1,0,0.214,0A0.214,0.214,0,1,0,-0.214,0ZM-0.071,0A0.071,0.071,0,1,0,0.071,0A0.071,0.071,0,1,0,-0.071,0Z", "symbolSize": 196, "symbolOffset": 14, "symbolStrokeWidth": 1, "symbolOpacity": 1, "labelFontSize": 12, "labelOffset": 14, "rowPadding": 18, "padding": 0}}}},
    {"data": {"name": "fc"}, "mark": {"type": "line", "strokeWidth": 1.2}, "encoding": {
      "x": {"field": "t", "type": "quantitative", "axis": null},
      "y": {"field": "v", "type": "quantitative", "axis": null},
      "color": {"field": "s", "type": "nominal"}}},
    {"data": {"name": "fc"}, "mark": {"type": "point", "filled": true, "opacity": 1, "size": 40}, "encoding": {
      "x": {"field": "t", "type": "quantitative", "axis": null},
      "y": {"field": "v", "type": "quantitative", "axis": null},
      "color": {"field": "s", "type": "nominal"}}},
    {"data": {"name": "obs"}, "mark": {"type": "errorbar", "ticks": true, "size": 6, "thickness": 1.8}, "encoding": {
      "x": {"field": "t", "type": "quantitative", "axis": null},
      "y": {"field": "lo", "type": "quantitative", "axis": null}, "y2": {"field": "hi"},
      "color": {"field": "s", "type": "nominal"}}},
    {"data": {"name": "obs"}, "mark": {"type": "line", "strokeWidth": 1.2}, "encoding": {
      "x": {"field": "t", "type": "quantitative", "axis": null},
      "y": {"field": "v", "type": "quantitative", "axis": null},
      "color": {"field": "s", "type": "nominal"}}},
    {"data": {"name": "obs"}, "mark": {"type": "point", "filled": true, "opacity": 1, "size": 40}, "encoding": {
      "x": {"field": "t", "type": "quantitative", "axis": null},
      "y": {"field": "v", "type": "quantitative", "axis": null},
      "color": {"field": "s", "type": "nominal"}}}
   ]},
  {"width": 355, "height": 355,
   "title": {"text": "d", "anchor": "start", "frame": "group", "fontSize": 44, "fontWeight": "normal", "dx": -104, "dy": 34, "offset": 0},
   "resolve": {"axis": {"x": "independent", "y": "independent"}},
   "layer": [
    {"data": {"name": "obs"}, "mark": {"type": "point", "opacity": 0}, "encoding": {
      "x": {"field": "t", "type": "quantitative", "scale": {"domain": [13, 27], "nice": false, "zero": false}, "axis": {"orient": "bottom", "values": [13,14,15,16,17,18,19,20,21,22,23,24,25,26,27], "labelExpr": "(datum.value < 24 ? '22 Apr, ' : '23 Apr, ') + (datum.value % 24 < 10 ? '0' : '') + (datum.value % 24) + ':00'", "labelAngle": 270, "labelAlign": "right", "labelBaseline": "top", "labelFontSize": 16, "labelPadding": 3, "tickSize": 8, "grid": true, "title": "Date, Time [UTC]", "titleFontSize": 19, "titlePadding": 12}},
      "y": {"field": "v", "type": "quantitative", "scale": {"domain": [0, 1200], "nice": false}, "axis": {"orient": "left", "values": [0,200,400,600,800,1000,1200], "format": "d", "labelPadding": 8, "tickSize": 8, "grid": true, "title": "Global Horizontal Irradiance [W m⁻²]", "titlePadding": 44}}}},
    {"data": {"name": "obs"}, "mark": {"type": "point", "opacity": 0}, "encoding": {
      "x": {"field": "t", "type": "quantitative", "axis": {"orient": "bottom", "values": [13.25,13.5,13.75,14.25,14.5,14.75,15.25,15.5,15.75,16.25,16.5,16.75,17.25,17.5,17.75,18.25,18.5,18.75,19.25,19.5,19.75,20.25,20.5,20.75,21.25,21.5,21.75,22.25,22.5,22.75,23.25,23.5,23.75,24.25,24.5,24.75,25.25,25.5,25.75,26.25,26.5,26.75], "labels": false, "tickSize": 4, "grid": false, "title": null}},
      "y": {"field": "v", "type": "quantitative", "axis": {"orient": "left", "values": [50,100,150,250,300,350,450,500,550,650,700,750,850,900,950,1050,1100,1150], "labels": false, "tickSize": 4, "grid": false, "title": null}}}},
    {"data": {"name": "obs"}, "mark": {"type": "point", "opacity": 0}, "encoding": {
      "x": {"field": "t", "type": "quantitative", "axis": {"orient": "top", "values": [13,14,15,16,17,18,19,20,21,22,23,24,25,26,27], "labels": false, "tickSize": 8, "grid": false, "title": "Case 3: WRFS Aero+ShCu GHI", "titlePadding": 10}},
      "y": {"field": "v", "type": "quantitative", "axis": {"orient": "right", "values": [0,200,400,600,800,1000,1200], "labels": false, "tickSize": 8, "grid": false, "title": null}}}},
    {"data": {"name": "obs"}, "mark": {"type": "point", "opacity": 0}, "encoding": {
      "x": {"field": "t", "type": "quantitative", "axis": {"orient": "top", "values": [13.25,13.5,13.75,14.25,14.5,14.75,15.25,15.5,15.75,16.25,16.5,16.75,17.25,17.5,17.75,18.25,18.5,18.75,19.25,19.5,19.75,20.25,20.5,20.75,21.25,21.5,21.75,22.25,22.5,22.75,23.25,23.5,23.75,24.25,24.5,24.75,25.25,25.5,25.75,26.25,26.5,26.75], "labels": false, "tickSize": 4, "grid": false, "title": null}},
      "y": {"field": "v", "type": "quantitative", "axis": {"orient": "right", "values": [50,100,150,250,300,350,450,500,550,650,700,750,850,900,950,1050,1100,1150], "labels": false, "tickSize": 4, "grid": false, "title": null}}}},
    {"data": {"name": "obs"}, "mark": {"type": "errorbar", "ticks": true, "size": 6, "thickness": 1.8}, "encoding": {
      "x": {"field": "t", "type": "quantitative", "axis": null},
      "y": {"field": "lo", "type": "quantitative", "axis": null}, "y2": {"field": "hi"},
      "color": {"field": "s", "type": "nominal", "scale": {"domain": ["18:00 UTC","15:00 UTC","12:00 UTC","SMUD obs"], "range": ["#00e000","#0000ff","#ff0000","#1a1a1a"]}, "legend": {"orient": "none", "legendX": -121, "legendY": 379, "title": null, "symbolType": "M-3,-0.04H3V0.04H-3ZM-0.5,0A0.5,0.5,0,1,0,0.5,0A0.5,0.5,0,1,0,-0.5,0ZM-0.357,0A0.357,0.357,0,1,0,0.357,0A0.357,0.357,0,1,0,-0.357,0ZM-0.214,0A0.214,0.214,0,1,0,0.214,0A0.214,0.214,0,1,0,-0.214,0ZM-0.071,0A0.071,0.071,0,1,0,0.071,0A0.071,0.071,0,1,0,-0.071,0Z", "symbolSize": 196, "symbolOffset": 14, "symbolStrokeWidth": 1, "symbolOpacity": 1, "labelFontSize": 12, "labelOffset": 14, "rowPadding": 18, "padding": 0}}}},
    {"data": {"name": "obs"}, "mark": {"type": "line", "strokeWidth": 1.2}, "encoding": {
      "x": {"field": "t", "type": "quantitative", "axis": null},
      "y": {"field": "v", "type": "quantitative", "axis": null},
      "color": {"field": "s", "type": "nominal"}}},
    {"data": {"name": "obs"}, "mark": {"type": "point", "filled": true, "opacity": 1, "size": 40}, "encoding": {
      "x": {"field": "t", "type": "quantitative", "axis": null},
      "y": {"field": "v", "type": "quantitative", "axis": null},
      "color": {"field": "s", "type": "nominal"}}},
    {"data": {"name": "fd"}, "mark": {"type": "errorbar", "ticks": true, "size": 6, "thickness": 1.2}, "encoding": {
      "x": {"field": "t", "type": "quantitative", "axis": null},
      "y": {"field": "lo", "type": "quantitative", "axis": null}, "y2": {"field": "hi"},
      "color": {"field": "s", "type": "nominal"}}},
    {"data": {"name": "fd"}, "mark": {"type": "line", "strokeWidth": 1.2}, "encoding": {
      "x": {"field": "t", "type": "quantitative", "axis": null},
      "y": {"field": "v", "type": "quantitative", "axis": null},
      "color": {"field": "s", "type": "nominal"}}},
    {"data": {"name": "fd"}, "mark": {"type": "point", "filled": true, "opacity": 1, "size": 40}, "encoding": {
      "x": {"field": "t", "type": "quantitative", "axis": null},
      "y": {"field": "v", "type": "quantitative", "axis": null},
      "color": {"field": "s", "type": "nominal"}}}
   ]}
]
}
